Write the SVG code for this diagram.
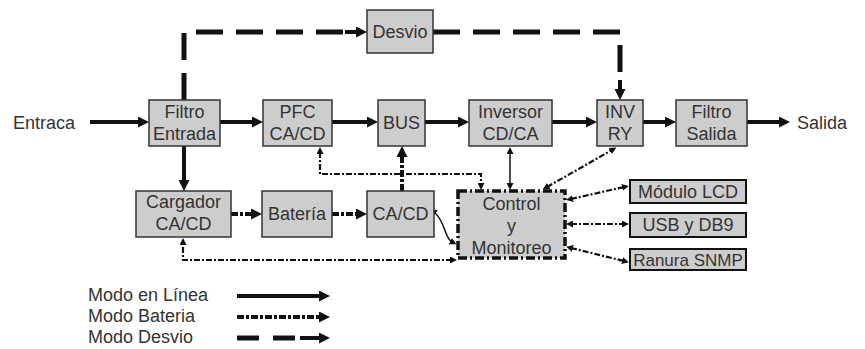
<svg xmlns="http://www.w3.org/2000/svg" width="865" height="349" viewBox="0 0 865 349">
<style>
.bx{fill:#cdcdcd;stroke:#333;stroke-width:1.5}
.ctl{fill:#cdcdcd;stroke:#111;stroke-width:3.5;stroke-dasharray:9 3 2 3}
.md{fill:#cdcdcd;stroke:#111;stroke-width:2}
text{font-family:"Liberation Sans",Arial,sans-serif;font-size:18px;fill:#333}
.c{text-anchor:middle}
.on{fill:none;stroke:#111;stroke-width:4;marker-end:url(#ah)}
.by{fill:none;stroke:#111;stroke-width:5;stroke-dasharray:27 13}
.bt{fill:none;stroke:#111;stroke-width:4;stroke-dasharray:7 2 3 2;marker-end:url(#ah)}
.ct{fill:none;stroke:#111;stroke-width:2.2;stroke-dasharray:6 2 2 2;marker-start:url(#as);marker-end:url(#as)}
.cs{fill:none;stroke:#111;stroke-width:1.5;marker-start:url(#as);marker-end:url(#as)}
.tip{fill:none;stroke:#111;stroke-width:4;marker-end:url(#ah)}
</style>
<defs>
<marker id="ah" viewBox="0 0 11 11" refX="3" refY="5.5" markerWidth="11" markerHeight="11" markerUnits="userSpaceOnUse" orient="auto"><path d="M0,0 L11,5.5 L0,11 z" fill="#111"/></marker>
<marker id="as" viewBox="0 0 7 7" refX="2" refY="3.5" markerWidth="7" markerHeight="7" markerUnits="userSpaceOnUse" orient="auto-start-reverse"><path d="M0,0 L7,3.5 L0,7 z" fill="#111"/></marker>
</defs>

<g id="connectors">
<path class="on" d="M90,122 H141"/>
<path class="on" d="M220,122 H255"/>
<path class="on" d="M332,122 H370"/>
<path class="on" d="M425,122 H461"/>
<path class="on" d="M552,122 H589"/>
<path class="on" d="M643,122 H668"/>
<path class="on" d="M747,122 H782"/>
<path class="on" d="M184,146 V183"/>
<path class="by" d="M184,100 V32 H345"/>
<path class="tip" d="M345,32 H359"/>
<path class="by" d="M433,32 H620 V80"/>
<path class="tip" d="M620,80 V92"/>
<path class="bt" d="M231,214 H254"/>
<path class="bt" d="M332,214 H359"/>
<path class="bt" d="M402,191 V154"/>
<path class="ct" d="M320,152 V174 H481 V185"/>
<path class="cs" d="M510,152 V185"/>
<path class="ct" d="M547,187 L612,150"/>
<path class="cs" d="M434,212 C446,222 444,238 452,242" marker-start="none"/>
<path class="ct" d="M452,260 H183 V243"/>
<path class="ct" d="M571,199 L624,187"/>
<path class="ct" d="M571,224 H624"/>
<path class="ct" d="M571,248 L624,261"/>
</g>

<g id="desvio"><rect class="bx" x="367" y="10" width="66" height="43"/><text class="c" x="400" y="38">Desvio</text></g>
<g id="filtro-entrada"><rect class="bx" x="149" y="100" width="71" height="46"/><text class="c" x="184.5" y="118">Filtro</text><text class="c" x="184.5" y="140">Entrada</text></g>
<g id="pfc"><rect class="bx" x="263" y="100" width="69" height="46"/><text class="c" x="297.5" y="118">PFC</text><text class="c" x="297.5" y="140">CA/CD</text></g>
<g id="bus"><rect class="bx" x="378" y="100" width="47" height="46"/><text class="c" x="401.5" y="129">BUS</text></g>
<g id="inversor"><rect class="bx" x="469" y="100" width="83" height="46"/><text class="c" x="510.5" y="118">Inversor</text><text class="c" x="510.5" y="140">CD/CA</text></g>
<g id="inv-ry"><rect class="bx" x="597" y="100" width="46" height="46"/><text class="c" x="620" y="118">INV</text><text class="c" x="620" y="140">RY</text></g>
<g id="filtro-salida"><rect class="bx" x="676" y="100" width="71" height="46"/><text class="c" x="711.5" y="118">Filtro</text><text class="c" x="711.5" y="140">Salida</text></g>
<g id="cargador"><rect class="bx" x="136" y="191" width="95" height="46"/><text class="c" x="183.5" y="208">Cargador</text><text class="c" x="183.5" y="230">CA/CD</text></g>
<g id="bateria"><rect class="bx" x="262" y="191" width="70" height="46"/><text class="c" x="297" y="220">Batería</text></g>
<g id="cacd"><rect class="bx" x="367" y="191" width="67" height="46"/><text class="c" x="400.5" y="220">CA/CD</text></g>
<g id="control"><rect class="ctl" x="458" y="191" width="107" height="67"/><text class="c" x="511.5" y="210">Control</text><text class="c" x="511.5" y="232">y</text><text class="c" x="511.5" y="254">Monitoreo</text></g>
<g id="lcd"><rect class="md" x="630" y="180" width="116" height="23"/><text class="c" x="688" y="198">Módulo LCD</text></g>
<g id="usb"><rect class="md" x="630" y="213" width="116" height="24"/><text class="c" x="688" y="231">USB y DB9</text></g>
<g id="snmp"><rect class="md" x="630" y="249" width="116" height="21"/><text class="c" x="688" y="266" style="font-size:17px">Ranura SNMP</text></g>

<g id="labels">
<text x="13" y="129">Entraca</text>
<text x="797" y="129">Salida</text>
</g>

<g id="legend">
<text x="88" y="301">Modo en Línea</text>
<text x="88" y="322">Modo Bateria</text>
<text x="88" y="343">Modo Desvio</text>
<path class="on" d="M237,296 H322"/>
<path class="bt" d="M237,317 H322"/>
<path class="by" d="M237,338 H300" style="stroke-dasharray:22 14"/>
<path class="tip" d="M300,338 H322"/>
</g>
</svg>
